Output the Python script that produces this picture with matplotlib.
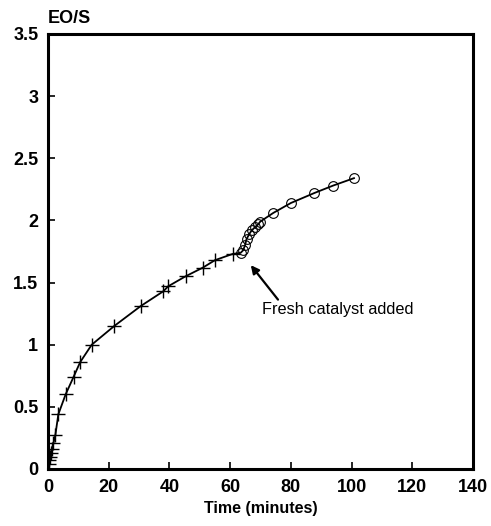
import matplotlib.pyplot as plt
import numpy as np

plt.rcParams["font.family"] = ["Liberation Sans", "DejaVu Sans"]

# Avant l'ajout de catalyseur (marqueurs +)
temps_avant = [0, 0.2, 0.4, 0.6, 0.9, 1.3, 1.8, 2.4, 3.4, 5.8, 8.4, 10.6,
               14.4, 21.8, 30.5, 38.0, 39.6, 45.3, 51.0, 55.0, 60.8]
eos_avant = [0.0, 0.04, 0.07, 0.10, 0.13, 0.16, 0.21, 0.27, 0.44, 0.60, 0.74,
             0.86, 1.00, 1.15, 1.31, 1.43, 1.47, 1.55, 1.62, 1.68, 1.73]

# Après l'ajout de catalyseur frais (marqueurs o)
temps_apres = [63.5, 64.3, 64.9, 65.4, 66.3, 67.1, 68.2, 69.3, 69.9, 74.2,
               80.0, 87.7, 93.9, 100.8]
eos_apres = [1.74, 1.76, 1.80, 1.85, 1.89, 1.92, 1.945, 1.97, 1.99, 2.06,
             2.14, 2.22, 2.28, 2.34]

fig = plt.figure(figsize=(4.91, 5.26), dpi=100)
ax = fig.add_axes([0.0978, 0.1084, 0.8655, 0.827])

# Courbe continue
ax.plot(temps_avant + temps_apres, eos_avant + eos_apres, color="black", lw=1.3, zorder=2)
ax.plot(temps_avant, eos_avant, linestyle="none", marker="+", ms=10, mew=1.0,
        color="black", zorder=3)
ax.plot(temps_apres, eos_apres, linestyle="none", marker="o", ms=7, mew=0.8,
        mfc="none", mec="black", zorder=3)

ax.annotate("Fresh catalyst added", xy=(66.8, 1.64), xytext=(70.5, 1.28),
            fontsize=11.7, ha="left", va="center",
            arrowprops=dict(arrowstyle="-|>", color="black", lw=1.6,
                            mutation_scale=12, shrinkA=0, shrinkB=0,
                            relpos=(0.12, 1.0)))

ax.set_xlim(0, 140)
ax.set_ylim(0, 3.5)
ax.set_xticks(np.arange(0, 141, 20))
ax.set_yticks(np.arange(0, 3.51, 0.5))
ax.set_yticklabels(["0", "0.5", "1", "1.5", "2", "2.5", "3", "3.5"])

for spine in ax.spines.values():
    spine.set_linewidth(2.2)

ax.tick_params(direction="in", length=5, width=1.2, labelsize=13, pad=7)
for lab in ax.get_xticklabels() + ax.get_yticklabels():
    lab.set_fontweight("bold")

ax.set_xlabel("Time (minutes)", fontsize=11.5, fontweight="bold", labelpad=4)
fig.text(0.0978, 0.949, "EO/S", fontsize=13, fontweight="bold", ha="left", va="bottom")

fig.savefig("out.png", dpi=100)
